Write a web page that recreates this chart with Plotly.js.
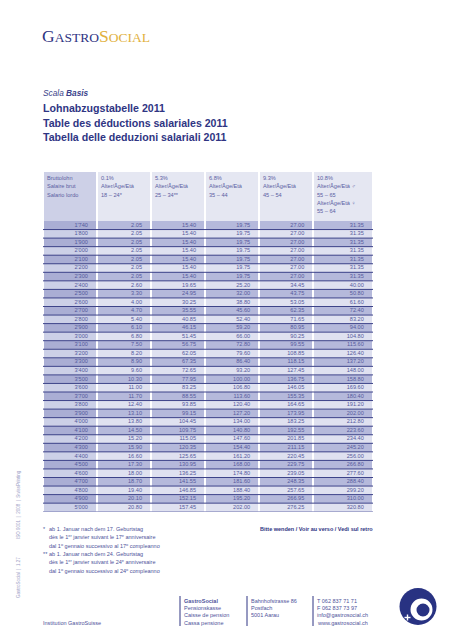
<!DOCTYPE html>
<html><head><meta charset="utf-8">
<script src="https://cdn.plot.ly/plotly-3.0.1.min.js"></script>
<style>html,body{margin:0;padding:0;background:#fff}#chart{width:453px;height:640px}</style>
</head><body><div id="chart"></div>
<script>
// ---------------- DATA ----------------
var headerLines = [
  ["Bruttolohn", "Salaire brut", "Salario lordo"],
  ["0.1%", "Alter/Âge/Età", "18 – 24*"],
  ["5.3%", "Alter/Âge/Età", "25 – 34**"],
  ["6.8%", "Alter/Âge/Età", "35 – 44"],
  ["9.3%", "Alter/Âge/Età", "45 – 54"],
  ["10.8%", "Alter/Âge/Età ♂", "55 – 65", "Alter/Âge/Età ♀", "55 – 64"]
];
var bruttolohn = ["1'740","1'800","1'900","2'000","2'100","2'200","2'300","2'400","2'500","2'600",
  "2'700","2'800","2'900","3'000","3'100","3'200","3'300","3'400","3'500","3'600","3'700","3'800",
  "3'900","4'000","4'100","4'200","4'300","4'400","4'500","4'600","4'700","4'800","4'900","5'000"];
var rate01 = [2.05,2.05,2.05,2.05,2.05,2.05,2.05,2.60,3.30,4.00,4.70,5.40,6.10,6.80,7.50,8.20,8.90,9.60,
  10.30,11.00,11.70,12.40,13.10,13.80,14.50,15.20,15.90,16.60,17.30,18.00,18.70,19.40,20.10,20.80];
var rate53 = [15.40,15.40,15.40,15.40,15.40,15.40,15.40,19.65,24.95,30.25,35.55,40.85,46.15,51.45,56.75,
  62.05,67.35,72.65,77.95,83.25,88.55,93.85,99.15,104.45,109.75,115.05,120.35,125.65,130.95,136.25,
  141.55,146.85,152.15,157.45];
var rate68 = [19.75,19.75,19.75,19.75,19.75,19.75,19.75,25.20,32.00,38.80,45.60,52.40,59.20,66.00,72.80,
  79.60,86.40,93.20,100.00,106.80,113.60,120.40,127.20,134.00,140.80,147.60,154.40,161.20,168.00,
  174.80,181.60,188.40,195.20,202.00];
var rate93 = [27.00,27.00,27.00,27.00,27.00,27.00,27.00,34.45,43.75,53.05,62.35,71.65,80.95,90.25,99.55,
  108.85,118.15,127.45,136.75,146.05,155.35,164.65,173.95,183.25,192.55,201.85,211.15,220.45,229.75,
  239.05,248.35,257.65,266.95,276.25];
var rate108 = [31.35,31.35,31.35,31.35,31.35,31.35,31.35,40.00,50.80,61.60,72.40,83.20,94.00,104.80,
  115.60,126.40,137.20,148.00,158.80,169.60,180.40,191.20,202.00,212.80,223.60,234.40,245.20,256.00,
  266.80,277.60,288.40,299.20,310.00,320.80];
var titleLines = ["Lohnabzugstabelle 2011", "Table des déductions salariales 2011", "Tabella delle deduzioni salariali 2011"];
var footnoteMarks = ["*", "", "", "**", "", ""];
var footnoteLines = [
  "ab 1. Januar nach dem 17. Geburtstag",
  "dès le 1<sup>er</sup> janvier suivant le 17<sup>e</sup> anniversaire",
  "dal 1<sup>o</sup> gennaio successivo al 17<sup>o</sup> compleanno",
  "ab 1. Januar nach dem 24. Geburtstag",
  "dès le 1<sup>er</sup> janvier suivant le 24<sup>e</sup> anniversaire",
  "dal 1<sup>o</sup> gennaio successivo al 24<sup>o</sup> compleanno"
];
var footerBlocks = [
  ["<b>GastroSocial</b>", "Pensionskasse", "Caisse de pension", "Cassa pensione"],
  ["Bahnhofstrasse 86", "Postfach", "5001 Aarau"],
  ["T 062 837 71 71", "F 062 837 73 97", "info@gastrosocial.ch", "www.gastrosocial.ch"]
];

// ---------------- GEOMETRY / STYLE ----------------
var W = 453, H = 640;
function px(x){ return x / W; }
function py(y){ return 1 - y / H; }
var tblLeft = 43, tblRight = 373, hdrTop = 172, hdrH = 49, rowH = 8.55;
var nRows = bruttolohn.length;
var colEdges = [0, 1, 2, 3, 4, 5, 6.1];
var hdrUnits = hdrH / rowH;
var NAVY = '#2f3583', TXT = '#555a9d';
var FONT = 'Liberation Sans, Arial, sans-serif';

var columns = [bruttolohn, rate01, rate53, rate68, rate93, rate108];

// heatmap classes (cell backgrounds)
var yEdges = [-hdrUnits];
for (var i = 0; i <= nRows; i++) yEdges.push(i);
var z = [];
z.push(columns.map(function(c, j){ return j === 0 ? 4 : 5; }));
for (var r = 0; r < nRows; r++) {
  z.push(columns.map(function(c, j){
    var dark = (r % 2 === 0);
    if (j === 0) return dark ? 3 : 2;
    return dark ? 1 : 0;
  }));
}
var cs = [[0,'#dfe1f0'],[0.2,'#b5b9db'],[0.4,'#ccd0e7'],[0.6,'#aaaed4'],[0.8,'#cdd0e7'],[1,'#e5e7f2']];

var traces = [{
  type: 'heatmap', x: colEdges, y: yEdges, z: z, colorscale: cs, zmin: 0, zmax: 5,
  showscale: false, xgap: 2, ygap: 0, hoverinfo: 'skip'
}];
columns.forEach(function(col, j){
  traces.push({
    type: 'scatter', mode: 'text',
    x: col.map(function(){ return colEdges[j + 1] - 0.17; }),
    y: col.map(function(v, i){ return i + 0.5; }),
    text: col.map(function(v){ return typeof v === 'number' ? v.toFixed(2) : v; }),
    textposition: 'middle left',
    textfont: {family: FONT, size: 5.6, color: TXT},
    hoverinfo: 'skip', cliponaxis: false
  });
});

var ann = [];
function addAnn(o){
  ann.push(Object.assign({xref:'paper', yref:'paper', showarrow:false, borderpad:0, borderwidth:0,
    xanchor:'left', yanchor:'middle', font:{family:FONT, size:5.5, color:TXT}}, o));
}
// header labels
headerLines.forEach(function(lines, j){
  lines.forEach(function(t, k){
    addAnn({xref:'x', x: colEdges[j] + 0.07, y: py(178 + 8.3 * k), text: t,
      font:{family:FONT, size:5.6, color:'#5b60a2'}});
  });
});
// logo
addAnn({x: px(42), y: py(36.5), text:'<span style="font-size:17.5px">G</span>ASTRO<span style="font-size:17.5px;color:#e1b13e">S</span><span style="color:#e1b13e">OCIAL</span>',
  font:{family:'Liberation Serif, serif', size:13.5, color:NAVY}});
addAnn({x: px(43), y: py(93), text:'<i>Scala <b>Basis</b></i>', font:{family:FONT, size:8.3, color:'#3a3f8a'}});
titleLines.forEach(function(t, k){
  addAnn({x: px(43), y: py(108 + 14.5 * k), text:'<b>' + t + '</b>', font:{family:FONT, size:10.6, color:NAVY}});
});
// footnotes
footnoteLines.forEach(function(t, k){
  var y = py(529 + 8.3 * k);
  if (footnoteMarks[k]) addAnn({x: px(42.5), y: y, text: footnoteMarks[k], font:{family:FONT, size:5.5, color:'#4d529a'}});
  addAnn({x: px(49), y: y, text: t, font:{family:FONT, size:5.5, color:'#4d529a'}});
});
addAnn({x: px(373), xanchor:'right', y: py(529), text:'<b>Bitte wenden / Voir au verso / Vedi sul retro</b>',
  font:{family:FONT, size:5.5, color:NAVY}});
// footer
var blockX = [184, 251, 317];
footerBlocks.forEach(function(lines, b){
  lines.forEach(function(t, k){
    addAnn({x: px(blockX[b]), y: py(601 + 7.2 * k), text: t, font:{family:FONT, size:5.5, color:'#4d529a'}});
  });
});
addAnn({x: px(43), y: py(622.6), text:'Institution GastroSuisse', font:{family:FONT, size:5.5, color:'#4d529a'}});
// side text
addAnn({x: px(18), xanchor:'center', y: py(578), textangle:-90, text:'GastroSocial  |  1.27', font:{family:FONT, size:4.5, color:'#9da1c6'}});
addAnn({x: px(18), xanchor:'center', y: py(505), textangle:-90, text:'ISO 9001  |  2008  |  SwissPrinting', font:{family:FONT, size:4.5, color:'#9da1c6'}});

var shapes = [];
// row rules below each table row
for (var rr = 1; rr <= nRows; rr++) {
  shapes.push({type:'line', xref:'x', yref:'y', x0:0, x1:colEdges[colEdges.length-1], y0:rr, y1:rr,
    line:{color: rr === nRows ? '#7d82b8' : '#3d4389', width:1}, layer:'above'});
}
blockX.forEach(function(x){
  shapes.push({type:'line', xref:'paper', yref:'paper', x0:px(x-4), x1:px(x-4), y0:py(596), y1:py(626), line:{color:NAVY, width:1}});
});
function circ(cx, cy, r, color){
  shapes.push({type:'circle', xref:'paper', yref:'paper', x0:px(cx-r), x1:px(cx+r), y0:py(cy+r), y1:py(cy-r),
    fillcolor:color, line:{width:0}});
}
circ(418, 606.5, 18.5, '#283282');
circ(421.5, 609.5, 11, '#ffffff');
circ(423, 610, 6.5, '#283282');
shapes.push({type:'rect', xref:'paper', yref:'paper', x0:px(404.5), x1:px(410.5), y0:py(618.2), y1:py(616.8), fillcolor:'#fff', line:{width:0}});
shapes.push({type:'rect', xref:'paper', yref:'paper', x0:px(406.8), x1:px(408.2), y0:py(620.5), y1:py(614.5), fillcolor:'#fff', line:{width:0}});

var layout = {
  width: W, height: H, margin:{l:0, r:0, t:0, b:0},
  paper_bgcolor:'#ffffff', plot_bgcolor:'#ffffff', showlegend:false,
  xaxis:{domain:[px(tblLeft), px(tblRight)], range:[0, colEdges[colEdges.length-1]], showgrid:false, zeroline:false,
    showticklabels:false, ticks:'', showline:false, fixedrange:true},
  yaxis:{domain:[py(hdrTop + hdrH + nRows * rowH), py(hdrTop)], range:[nRows, -hdrUnits],
    showgrid:false, zeroline:false, showticklabels:false, ticks:'', showline:false, fixedrange:true},
  annotations: ann, shapes: shapes
};
Plotly.newPlot('chart', traces, layout, {displayModeBar:false, staticPlot:true});
</script></body></html>
